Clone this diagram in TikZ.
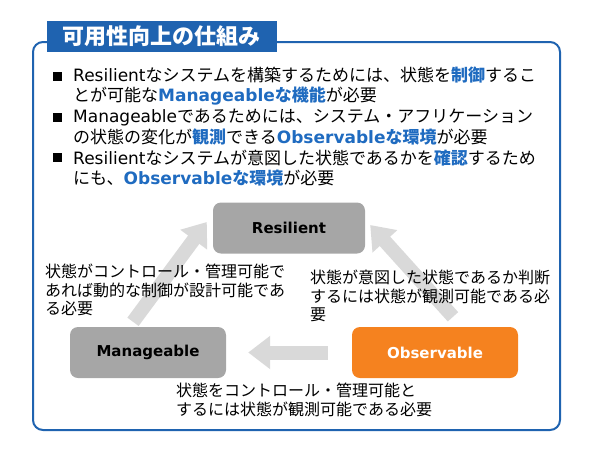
\documentclass[tikz,border=0pt]{standalone}
\usepackage{fontspec}
\setmainfont{Noto Sans CJK JP}
\newfontfamily\latfont{DejaVu Sans}
\usepackage{xcolor}
\usetikzlibrary{arrows.meta,calc,positioning}
\definecolor{frameblue}{HTML}{1F63B0}
\definecolor{hlblue}{HTML}{1F6BC0}
\definecolor{stategray}{HTML}{A6A6A6}
\definecolor{flowgray}{HTML}{D9D9D9}
\definecolor{obsorange}{HTML}{F5821F}
\newcommand{\en}[1]{{\latfont #1}}
\newcommand{\hl}[1]{\textcolor{hlblue}{\bfseries #1}}
\tikzset{%
	panel/.style  = {draw=frameblue, line width=2pt, rounded corners=10pt, minimum width=527pt, minimum height=388pt},
	title/.style  = {fill=frameblue, text=white, minimum width=230pt, minimum height=31pt, font=\bfseries\fontsize{22}{24}\selectfont},
	bullet/.style = {fill=black, minimum size=9pt, inner sep=0pt},
	item/.style   = {anchor=west, align=left, inner sep=0pt, font=\fontsize{17}{20.5}\selectfont},
	state/.style  = {fill=stategray, rounded corners=8pt, minimum width=156pt, minimum height=51pt, font=\latfont\bfseries\fontsize{15}{18}\selectfont},
	flow/.style   = {draw=flowgray, line width=14pt, -{Triangle[length=22pt,width=32pt]}},
	note/.style   = {anchor=west, align=left, inner sep=0pt, font=\fontsize{16}{18.5}\selectfont},
}

\begin{document}
\begin{tikzpicture}[x=1pt,y=-1pt]
	\useasboundingbox (0,0) rectangle (590,451);
	% frame and title
	\node [panel] (pnl) at (296.5,236) {};
	\node [title] (ttl) at (162,36.5) {可用性向上の仕組み};
	
	% bullet list
	\node [bullet] (b1) at (57.5,76) {};
	\node [bullet] (b2) at (57.5,117) {};
	\node [bullet] (b3) at (57.5,157.5) {};
	\node [item] (t1) at (73,86) {\en{Resilient}なシステムを構築するためには、状態を\hl{制御}するこ\\とが可能な\hl{\en{Manageable}な機能}が必要};
	\node [item] (t2) at (73,127) {\en{Manageable}であるためには、システム・アフリケーション\\の状態の変化が\hl{観測}できる\hl{\en{Observable}な環境}が必要};
	\node [item] (t3) at (73,168) {\en{Resilient}なシステムが意図した状態であるかを\hl{確認}するため\\にも、\hl{\en{Observable}な環境}が必要};
	
	% cycle
	\node [state,minimum width=152pt] (res) at (289,228) {Resilient};
	\node [state] (mng) at (148,352.5) {Manageable};
	\node [state,fill=obsorange,text=white,minimum width=166pt] (obs) at (435,352.5) {Observable};
	
	\draw[flow] ($(mng.north)+(-15,-5)$) -- ($(res.west)+(-6,-6)$);
	\draw[flow] ($(obs.north)+(18,-10)$) -- ($(res.east)+(5,-3)$);
	\draw[flow] ($(obs.west)+(-24,0)$) -- ($(mng.east)+(22,0)$);
	
	\node [note] (n1) at (45,290) {状態がコントロール・管理可能で\\あれば動的な制御が設計可能であ\\る必要};
	\node [note] (n2) at (310,296) {状態が意図した状態であるか判断\\するには状態が観測可能である必\\要};
	\node [note] (n3) at (176,400) {状態をコントロール・管理可能と\\するには状態が観測可能である必要};
\end{tikzpicture}
\end{document}
